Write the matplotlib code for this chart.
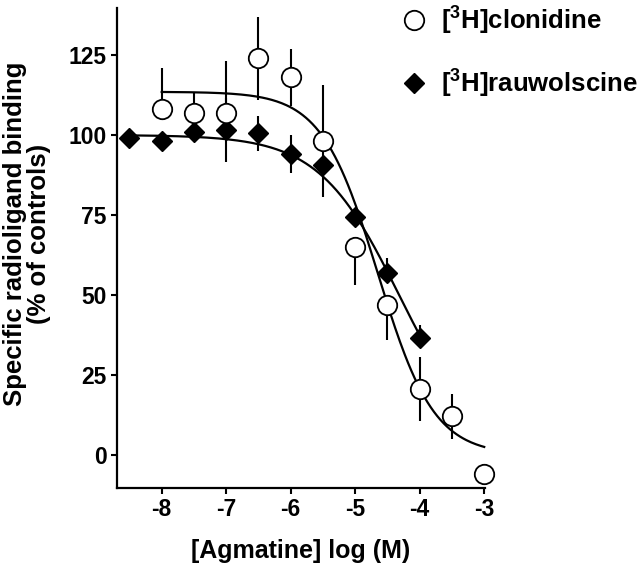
import numpy as np
import matplotlib.pyplot as plt

plt.rcParams['font.family'] = ['Liberation Sans', 'DejaVu Sans']
plt.rcParams['font.weight'] = 'bold'
plt.rcParams['axes.unicode_minus'] = False
plt.rcParams['mathtext.fontset'] = 'custom'
plt.rcParams['mathtext.rm'] = 'Liberation Sans:bold'

# [3H]clonidine (open circles)
clon_x = [-8, -7.5, -7, -6.5, -6, -5.5, -5, -4.5, -4, -3.5, -3]
clon_y = [108, 107, 107, 124, 118, 98, 65, 47, 20.5, 12, -6]
clon_lo = [0, 0, 0, 13, 9, 0, 12, 11, 10, 7, 0]
clon_hi = [13, 6, 16, 13, 9, 17.5, 0, 0, 10, 7, 0]

# [3H]rauwolscine (filled diamonds)
rauw_x = [-8.5, -8, -7.5, -7, -6.5, -6, -5.5, -5, -4.5, -4]
rauw_y = [99, 98, 101, 101.5, 100.5, 94, 90.5, 74.5, 57, 36.5]
rauw_lo = [0, 0, 0, 10, 5.5, 6, 10, 0, 0, 0]
rauw_hi = [0, 0, 0, 10, 5.5, 6, 10, 0, 4.5, 4]

# параметры подгонки (top, bottom, logIC50, Hill)
clon_fit = (113.5, 0, -4.65, 1.0)
rauw_fit = (100, 0, -4.32, 0.7)


def sigmoid(x, top, bottom, logic50, hill):
    return bottom + (top - bottom) / (1 + 10 ** ((x - logic50) * hill))


fig = plt.figure(figsize=(6.4, 5.65), dpi=100)
ax = fig.add_axes([117 / 640, 77.5 / 565, 368.5 / 640, 479.5 / 565])

xc = np.linspace(-8, -3, 200)
xr = np.linspace(-8.5, -4, 200)
ax.plot(xc, sigmoid(xc, *clon_fit), color='black', lw=1.6, zorder=2)
ax.plot(xr, sigmoid(xr, *rauw_fit), color='black', lw=1.6, zorder=2)

ax.errorbar(rauw_x, rauw_y, yerr=[rauw_lo, rauw_hi], fmt='none',
            ecolor='black', elinewidth=1.5, capsize=0, zorder=3)
ax.plot(rauw_x, rauw_y, 'D', ms=10, mfc='black', mec='black', zorder=4)

ax.errorbar(clon_x, clon_y, yerr=[clon_lo, clon_hi], fmt='none',
            ecolor='black', elinewidth=1.5, capsize=0, zorder=5)
ax.plot(clon_x, clon_y, 'o', ms=14, mfc='white', mec='black', mew=1.3,
        zorder=6, clip_on=False)

ax.set_xlim(-8.693, -2.98)
ax.set_ylim(-10.2, 139.7)
ax.set_xticks([-8, -7, -6, -5, -4, -3])
ax.set_yticks([0, 25, 50, 75, 100, 125])
for s in ['top', 'right']:
    ax.spines[s].set_visible(False)
for s in ['left', 'bottom']:
    ax.spines[s].set_linewidth(1.6)
ax.tick_params(direction='out', length=4.5, width=1.5, labelsize=16.5, pad=3)

fig.text(27 / 640, 1 - 234 / 565, 'Specific radioligand binding\n(% of controls)',
         rotation=90, ha='center', va='center', fontsize=18.5,
         fontweight='bold', multialignment='center', linespacing=1.05)
fig.text(301 / 640, 1 - 551 / 565, '[Agmatine] log (M)', ha='center',
         va='center', fontsize=18, fontweight='bold')

h1, = ax.plot([], [], 'o', ms=14, mfc='white', mec='black', mew=1.3)
h2, = ax.plot([], [], 'D', ms=10, mfc='black', mec='black')
fig.legend([h1, h2], [r'[$^{\mathrm{3}}$H]clonidine', r'[$^{\mathrm{3}}$H]rauwolscine'],
           loc='upper left', bbox_to_anchor=(401 / 640, 1 - 3 / 565),
           frameon=False, fontsize=18.5, handlelength=1.0, handletextpad=0.55,
           labelspacing=1.18, borderaxespad=0, borderpad=0)

fig.savefig('out.png', dpi=100)
